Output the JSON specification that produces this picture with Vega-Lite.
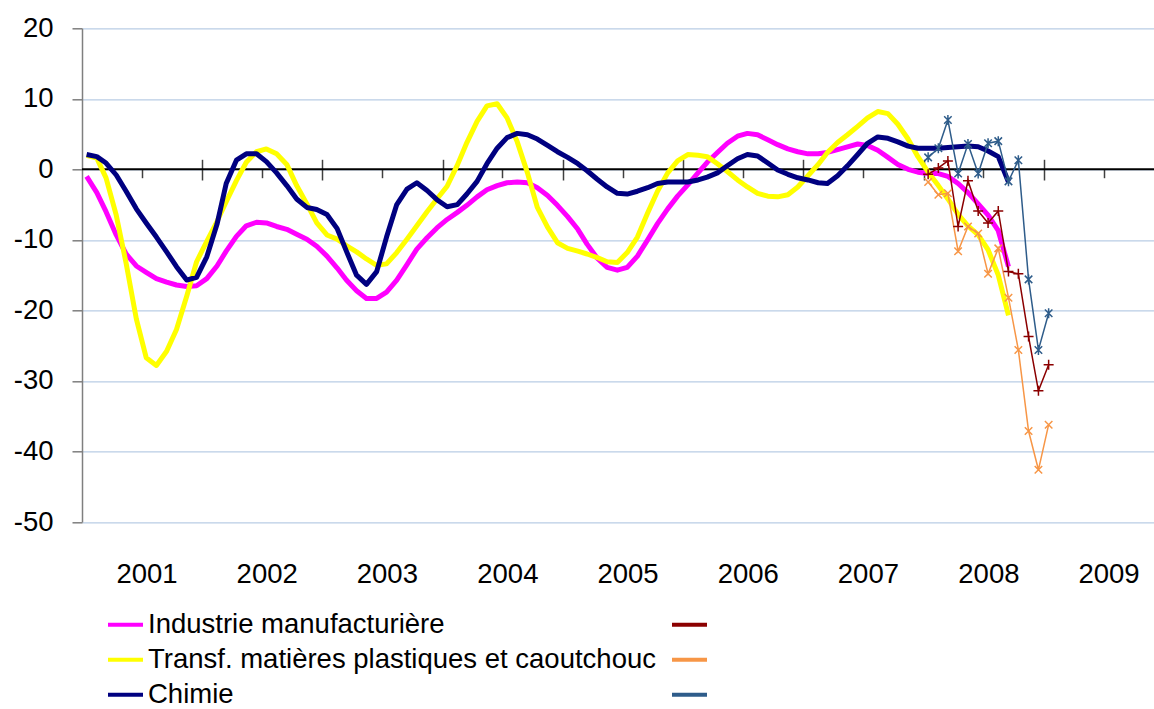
{
  "$schema": "https://vega.github.io/schema/vega-lite/v6.json",
  "width": 1072,
  "height": 493.7,
  "autosize": {"type": "none"},
  "padding": {"left": 82, "top": 28.3, "right": 0, "bottom": 187},
  "config": {
    "view": {"stroke": null},
    "font": "Liberation Sans, Arial, sans-serif",
    "axis": {"labelFont": "Liberation Sans, Arial, sans-serif"},
    "legend": {"labelFont": "Liberation Sans, Arial, sans-serif"}
  },
  "datasets": {
    "main": [
      {"date": "2001-01-15", "ind": -1.0, "plast": 2.0, "chim": 2.1},
      {"date": "2001-02-15", "ind": -3.3, "plast": 1.6, "chim": 1.8},
      {"date": "2001-03-15", "ind": -6.0, "plast": -1.2, "chim": 0.9},
      {"date": "2001-04-15", "ind": -9.3, "plast": -6.5, "chim": -0.8},
      {"date": "2001-05-15", "ind": -12.0, "plast": -13.3, "chim": -3.1},
      {"date": "2001-06-15", "ind": -13.7, "plast": -21.2, "chim": -5.6},
      {"date": "2001-07-15", "ind": -14.6, "plast": -26.7, "chim": -7.6},
      {"date": "2001-08-15", "ind": -15.5, "plast": -27.8, "chim": -9.6},
      {"date": "2001-09-15", "ind": -16.0, "plast": -25.8, "chim": -11.7},
      {"date": "2001-10-15", "ind": -16.4, "plast": -22.7, "chim": -13.8},
      {"date": "2001-11-15", "ind": -16.6, "plast": -18.0, "chim": -15.7},
      {"date": "2001-12-15", "ind": -16.5, "plast": -13.1, "chim": -15.3},
      {"date": "2002-01-15", "ind": -15.5, "plast": -10.2, "chim": -12.4},
      {"date": "2002-02-15", "ind": -13.7, "plast": -7.4, "chim": -7.8},
      {"date": "2002-03-15", "ind": -11.6, "plast": -4.6, "chim": -2.0},
      {"date": "2002-04-15", "ind": -9.5, "plast": -1.6, "chim": 1.3},
      {"date": "2002-05-15", "ind": -8.0, "plast": 1.0, "chim": 2.2},
      {"date": "2002-06-15", "ind": -7.5, "plast": 2.5, "chim": 2.2},
      {"date": "2002-07-15", "ind": -7.6, "plast": 2.9, "chim": 1.1},
      {"date": "2002-08-15", "ind": -8.1, "plast": 2.2, "chim": -0.5},
      {"date": "2002-09-15", "ind": -8.5, "plast": 0.7, "chim": -2.3},
      {"date": "2002-10-15", "ind": -9.2, "plast": -2.3, "chim": -4.2},
      {"date": "2002-11-15", "ind": -9.9, "plast": -4.9, "chim": -5.4},
      {"date": "2002-12-15", "ind": -10.9, "plast": -7.6, "chim": -5.7},
      {"date": "2003-01-15", "ind": -12.3, "plast": -9.3, "chim": -6.4},
      {"date": "2003-02-15", "ind": -14.0, "plast": -9.9, "chim": -8.4},
      {"date": "2003-03-15", "ind": -15.7, "plast": -10.8, "chim": -11.6},
      {"date": "2003-04-15", "ind": -17.2, "plast": -11.7, "chim": -15.0},
      {"date": "2003-05-15", "ind": -18.3, "plast": -12.7, "chim": -16.3},
      {"date": "2003-06-15", "ind": -18.3, "plast": -13.6, "chim": -14.5},
      {"date": "2003-07-15", "ind": -17.4, "plast": -13.4, "chim": -9.6},
      {"date": "2003-08-15", "ind": -15.7, "plast": -11.8, "chim": -5.0},
      {"date": "2003-09-15", "ind": -13.5, "plast": -9.9, "chim": -2.8},
      {"date": "2003-10-15", "ind": -11.3, "plast": -8.0, "chim": -1.9},
      {"date": "2003-11-15", "ind": -9.7, "plast": -6.0, "chim": -3.0},
      {"date": "2003-12-15", "ind": -8.3, "plast": -4.2, "chim": -4.3},
      {"date": "2004-01-15", "ind": -7.1, "plast": -2.4, "chim": -5.3},
      {"date": "2004-02-15", "ind": -6.1, "plast": 0.6, "chim": -5.0},
      {"date": "2004-03-15", "ind": -5.1, "plast": 3.8, "chim": -3.5},
      {"date": "2004-04-15", "ind": -3.9, "plast": 6.8, "chim": -1.7},
      {"date": "2004-05-15", "ind": -2.9, "plast": 9.0, "chim": 0.8},
      {"date": "2004-06-15", "ind": -2.3, "plast": 9.3, "chim": 3.0},
      {"date": "2004-07-15", "ind": -1.9, "plast": 7.3, "chim": 4.5},
      {"date": "2004-08-15", "ind": -1.8, "plast": 3.9, "chim": 5.1},
      {"date": "2004-09-15", "ind": -1.9, "plast": -0.5, "chim": 4.9},
      {"date": "2004-10-15", "ind": -2.6, "plast": -5.4, "chim": 4.3},
      {"date": "2004-11-15", "ind": -3.7, "plast": -8.2, "chim": 3.4},
      {"date": "2004-12-15", "ind": -5.1, "plast": -10.4, "chim": 2.5},
      {"date": "2005-01-15", "ind": -6.7, "plast": -11.2, "chim": 1.7},
      {"date": "2005-02-15", "ind": -8.5, "plast": -11.6, "chim": 0.8},
      {"date": "2005-03-15", "ind": -10.6, "plast": -12.0, "chim": -0.2},
      {"date": "2005-04-15", "ind": -12.6, "plast": -12.5, "chim": -1.4},
      {"date": "2005-05-15", "ind": -13.9, "plast": -13.1, "chim": -2.5},
      {"date": "2005-06-15", "ind": -14.3, "plast": -13.2, "chim": -3.4},
      {"date": "2005-07-15", "ind": -13.9, "plast": -11.8, "chim": -3.5},
      {"date": "2005-08-15", "ind": -12.3, "plast": -9.6, "chim": -3.1},
      {"date": "2005-09-15", "ind": -10.0, "plast": -6.2, "chim": -2.6},
      {"date": "2005-10-15", "ind": -7.7, "plast": -3.1, "chim": -2.0},
      {"date": "2005-11-15", "ind": -5.6, "plast": -0.5, "chim": -1.8},
      {"date": "2005-12-15", "ind": -3.8, "plast": 1.2, "chim": -1.8},
      {"date": "2006-01-15", "ind": -2.2, "plast": 2.1, "chim": -1.8},
      {"date": "2006-02-15", "ind": -0.5, "plast": 2.0, "chim": -1.5},
      {"date": "2006-03-15", "ind": 1.0, "plast": 1.8, "chim": -1.1},
      {"date": "2006-04-15", "ind": 2.4, "plast": 0.8, "chim": -0.5},
      {"date": "2006-05-15", "ind": 3.7, "plast": -0.3, "chim": 0.5},
      {"date": "2006-06-15", "ind": 4.7, "plast": -1.5, "chim": 1.5},
      {"date": "2006-07-15", "ind": 5.1, "plast": -2.5, "chim": 2.1},
      {"date": "2006-08-15", "ind": 4.9, "plast": -3.4, "chim": 1.9},
      {"date": "2006-09-15", "ind": 4.2, "plast": -3.8, "chim": 0.9},
      {"date": "2006-10-15", "ind": 3.5, "plast": -3.9, "chim": -0.1},
      {"date": "2006-11-15", "ind": 2.9, "plast": -3.6, "chim": -0.7},
      {"date": "2006-12-15", "ind": 2.5, "plast": -2.5, "chim": -1.2},
      {"date": "2007-01-15", "ind": 2.2, "plast": -0.9, "chim": -1.5},
      {"date": "2007-02-15", "ind": 2.2, "plast": 0.7, "chim": -1.9},
      {"date": "2007-03-15", "ind": 2.4, "plast": 2.4, "chim": -2.0},
      {"date": "2007-04-15", "ind": 2.8, "plast": 3.8, "chim": -0.9},
      {"date": "2007-05-15", "ind": 3.2, "plast": 4.9, "chim": 0.5},
      {"date": "2007-06-15", "ind": 3.6, "plast": 6.1, "chim": 2.1},
      {"date": "2007-07-15", "ind": 3.4, "plast": 7.3, "chim": 3.7},
      {"date": "2007-08-15", "ind": 2.7, "plast": 8.2, "chim": 4.6},
      {"date": "2007-09-15", "ind": 1.7, "plast": 7.9, "chim": 4.4},
      {"date": "2007-10-15", "ind": 0.7, "plast": 6.4, "chim": 3.9},
      {"date": "2007-11-15", "ind": 0.0, "plast": 4.3, "chim": 3.3},
      {"date": "2007-12-15", "ind": -0.4, "plast": 1.8, "chim": 3.0},
      {"date": "2008-01-15", "ind": -0.6, "plast": -0.4, "chim": 3.0},
      {"date": "2008-02-15", "ind": -0.6, "plast": -2.3, "chim": 3.0},
      {"date": "2008-03-15", "ind": -1.0, "plast": -4.2, "chim": 3.1},
      {"date": "2008-04-15", "ind": -2.0, "plast": -6.4, "chim": 3.2},
      {"date": "2008-05-15", "ind": -3.3, "plast": -8.0, "chim": 3.3},
      {"date": "2008-06-15", "ind": -4.9, "plast": -9.3, "chim": 3.2},
      {"date": "2008-07-15", "ind": -6.5, "plast": -11.4, "chim": 2.6},
      {"date": "2008-08-15", "ind": -8.7, "plast": -15.0, "chim": 1.8},
      {"date": "2008-09-15", "ind": -13.8, "plast": -20.7, "chim": -1.8}
    ],
    "markers": [
      {"date": "2008-01-15", "ind_m": -0.7, "plast_m": -1.8, "chim_m": 1.7},
      {"date": "2008-02-15", "ind_m": 0.2, "plast_m": -3.6, "chim_m": 3.0},
      {"date": "2008-03-15", "ind_m": 1.2, "plast_m": -3.4, "chim_m": 7.0},
      {"date": "2008-04-15", "ind_m": -8.1, "plast_m": -11.6, "chim_m": -0.6},
      {"date": "2008-05-15", "ind_m": -1.6, "plast_m": -8.1, "chim_m": 3.6},
      {"date": "2008-06-15", "ind_m": -5.9, "plast_m": -9.1, "chim_m": -0.6},
      {"date": "2008-07-15", "ind_m": -7.6, "plast_m": -14.8, "chim_m": 3.7},
      {"date": "2008-08-15", "ind_m": -5.9, "plast_m": -11.2, "chim_m": 4.0},
      {"date": "2008-09-15", "ind_m": -14.5, "plast_m": -18.2, "chim_m": -1.7},
      {"date": "2008-10-15", "ind_m": -14.8, "plast_m": -25.6, "chim_m": 1.3},
      {"date": "2008-11-15", "ind_m": -23.7, "plast_m": -37.1, "chim_m": -15.6},
      {"date": "2008-12-15", "ind_m": -31.4, "plast_m": -42.6, "chim_m": -25.6},
      {"date": "2009-01-15", "ind_m": -27.7, "plast_m": -36.2, "chim_m": -20.4}
    ]
  },
  "resolve": {"axis": {"x": "independent"}},
  "layer": [
    {
      "data": {"values": [{}]},
      "mark": {"type": "rule", "color": "#000000", "strokeWidth": 2},
      "encoding": {
        "y": {
          "datum": 0, "type": "quantitative",
          "axis": {
            "orient": "left", "title": null, "values": [-50, -40, -30, -20, -10, 0, 10, 20],
            "labelExpr": "'' + datum.value",
            "grid": true, "gridColor": "#b9cde5", "gridWidth": 1.2,
            "domainColor": "#7f7f7f", "domainWidth": 1.5,
            "tickColor": "#7f7f7f", "tickWidth": 1.5, "tickSize": 10,
            "labelFontSize": 27.5, "labelPadding": 19, "labelColor": "#000000", "labelFlush": false
          }
        }
      }
    },
    {
      "data": {"name": "main"},
      "transform": [{"fold": ["ind", "plast", "chim"], "as": ["series", "value"]}],
      "mark": {"type": "line", "strokeWidth": 5, "strokeJoin": "round"},
      "encoding": {
        "x": {
          "field": "date", "type": "temporal",
          "scale": {"type": "utc", "domain": [{"year": 2001, "month": 1, "date": 1, "utc": true}, {"year": 2009, "month": 12, "date": 1, "utc": true}]},
          "axis": {
            "orient": "bottom", "title": null, "domain": false, "ticks": false, "grid": false,
            "values": [
              {"year": 2001, "month": 7, "date": 16, "utc": true},
              {"year": 2002, "month": 7, "date": 16, "utc": true},
              {"year": 2003, "month": 7, "date": 16, "utc": true},
              {"year": 2004, "month": 7, "date": 16, "utc": true},
              {"year": 2005, "month": 7, "date": 16, "utc": true},
              {"year": 2006, "month": 7, "date": 16, "utc": true},
              {"year": 2007, "month": 7, "date": 16, "utc": true},
              {"year": 2008, "month": 7, "date": 16, "utc": true},
              {"year": 2009, "month": 7, "date": 16, "utc": true}
            ],
            "labelExpr": "utcFormat(datum.value, '%Y')",
            "labelFontSize": 27.5, "labelPadding": 38.5, "labelColor": "#000000",
            "labelFlush": false, "labelOverlap": false
          }
        },
        "y": {
          "field": "value", "type": "quantitative",
          "scale": {"domain": [-50, 20], "nice": false, "zero": false},
          "axis": {
            "orient": "left", "title": null, "values": [-50, -40, -30, -20, -10, 0, 10, 20],
            "labelExpr": "'' + datum.value",
            "grid": true, "gridColor": "#b9cde5", "gridWidth": 1.2,
            "domainColor": "#7f7f7f", "domainWidth": 1.5,
            "tickColor": "#7f7f7f", "tickWidth": 1.5, "tickSize": 10,
            "labelFontSize": 27.5, "labelPadding": 19, "labelColor": "#000000", "labelFlush": false
          }
        },
        "color": {
          "field": "series", "type": "nominal",
          "scale": {
            "domain": ["ind", "plast", "chim", "ind_m", "plast_m", "chim_m"],
            "range": ["#ff00ff", "#ffff00", "#000080", "#8b0000", "#f79646", "#2e5c8a"]
          },
          "legend": {
            "orient": "none", "legendX": 24, "legendY": 577, "direction": "vertical", "columns": 2,
            "title": null, "padding": 0, "symbolSize": 1225, "symbolType": "stroke", "symbolStrokeWidth": 4,
            "rowPadding": 2, "columnPadding": 8, "labelOffset": 3,
            "labelFontSize": 27.5, "labelColor": "#000000", "labelLimit": 1000,
            "labelExpr": "datum.value === 'ind' ? 'Industrie manufacturière' : datum.value === 'plast' ? 'Transf. matières plastiques et caoutchouc' : datum.value === 'chim' ? 'Chimie' : ''"
          }
        }
      }
    },
    {
      "data": {"name": "markers"},
      "transform": [{"fold": ["ind_m", "plast_m", "chim_m"], "as": ["series", "value"]}],
      "mark": {"type": "line", "strokeWidth": 1.5},
      "encoding": {
        "x": {
          "field": "date", "type": "temporal",
          "axis": {
            "orient": "top", "offset": -151.7, "title": null, "domain": false, "labels": false, "grid": false,
            "values": [
              {"year": 2002, "month": 1, "date": 1, "utc": true},
              {"year": 2003, "month": 1, "date": 1, "utc": true},
              {"year": 2004, "month": 1, "date": 1, "utc": true},
              {"year": 2005, "month": 1, "date": 1, "utc": true},
              {"year": 2006, "month": 1, "date": 1, "utc": true},
              {"year": 2007, "month": 1, "date": 1, "utc": true},
              {"year": 2008, "month": 1, "date": 1, "utc": true},
              {"year": 2009, "month": 1, "date": 1, "utc": true}
            ],
            "tickColor": "#404040", "tickWidth": 1.5, "tickSize": 20.7
          }
        },
        "y": {
          "field": "value", "type": "quantitative",
          "axis": {
            "orient": "left", "title": null, "values": [-50, -40, -30, -20, -10, 0, 10, 20],
            "labelExpr": "'' + datum.value",
            "grid": true, "gridColor": "#b9cde5", "gridWidth": 1.2,
            "domainColor": "#7f7f7f", "domainWidth": 1.5,
            "tickColor": "#7f7f7f", "tickWidth": 1.5, "tickSize": 10,
            "labelFontSize": 27.5, "labelPadding": 19, "labelColor": "#000000", "labelFlush": false
          }
        },
        "color": {"field": "series", "type": "nominal", "legend": null}
      }
    },
    {
      "data": {"name": "markers"},
      "transform": [{"fold": ["ind_m", "plast_m", "chim_m"], "as": ["series", "value"]}],
      "mark": {"type": "point", "filled": false, "size": 100, "strokeWidth": 1.5, "opacity": 1},
      "encoding": {
        "x": {
          "field": "date", "type": "temporal",
          "axis": {
            "orient": "top", "offset": -149.4, "title": null, "domain": false, "labels": false, "grid": false,
            "values": [
              {"year": 2001, "month": 7, "date": 1, "utc": true},
              {"year": 2002, "month": 7, "date": 1, "utc": true},
              {"year": 2003, "month": 7, "date": 1, "utc": true},
              {"year": 2004, "month": 7, "date": 1, "utc": true},
              {"year": 2005, "month": 7, "date": 1, "utc": true},
              {"year": 2006, "month": 7, "date": 1, "utc": true},
              {"year": 2007, "month": 7, "date": 1, "utc": true},
              {"year": 2008, "month": 7, "date": 1, "utc": true},
              {"year": 2009, "month": 7, "date": 1, "utc": true}
            ],
            "tickColor": "#404040", "tickWidth": 1.5, "tickSize": 8.4
          }
        },
        "y": {
          "field": "value", "type": "quantitative",
          "axis": {
            "orient": "left", "title": null, "values": [-50, -40, -30, -20, -10, 0, 10, 20],
            "labelExpr": "'' + datum.value",
            "grid": true, "gridColor": "#b9cde5", "gridWidth": 1.2,
            "domainColor": "#7f7f7f", "domainWidth": 1.5,
            "tickColor": "#7f7f7f", "tickWidth": 1.5, "tickSize": 10,
            "labelFontSize": 27.5, "labelPadding": 19, "labelColor": "#000000", "labelFlush": false
          }
        },
        "color": {"field": "series", "type": "nominal", "legend": null},
        "shape": {
          "field": "series", "type": "nominal", "legend": null,
          "scale": {
            "domain": ["ind_m", "plast_m", "chim_m"],
            "range": ["M-1,0H1M0,-1V1", "M-0.75,-0.75L0.75,0.75M-0.75,0.75L0.75,-0.75", "M-0.75,-0.75L0.75,0.75M-0.75,0.75L0.75,-0.75M0,-1V1"]
          }
        }
      }
    }
  ]
}
